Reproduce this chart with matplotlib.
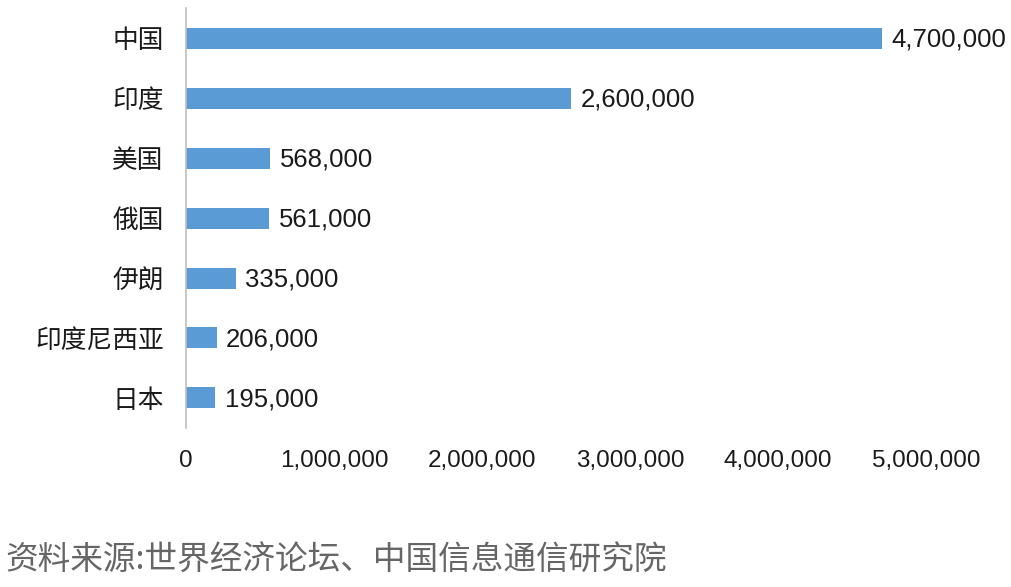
import matplotlib.pyplot as plt
from matplotlib.ticker import FuncFormatter

plt.rcParams['font.family'] = ['Liberation Sans', 'Noto Sans CJK SC', 'DejaVu Sans']

countries = ['中国', '印度', '美国', '俄国', '伊朗', '印度尼西亚', '日本']
values = [4700000, 2600000, 568000, 561000, 335000, 206000, 195000]
xticks = [0, 1000000, 2000000, 3000000, 4000000, 5000000]
source = '资料来源:世界经济论坛、中国信息通信研究院'

fig = plt.figure(figsize=(10.11, 5.87), dpi=100)
ax = fig.add_axes([0.184, 0.271, 0.732, 0.715])

pos = range(len(countries))
ax.barh(pos, values, height=0.35, color='#5B9BD5')
for i, v in enumerate(values):
    ax.annotate(f'{v:,}', (v, i), xytext=(7, -1), textcoords='offset points',
                va='center', ha='left', fontsize=18.5, color='#1a1a1a')

ax.set_xlim(0, 5000000)
ax.set_ylim(6.5, -0.5)
ax.set_xticks(xticks)
ax.xaxis.set_major_formatter(FuncFormatter(lambda x, p: f'{int(x):,}'))
ax.set_yticks(list(pos))
ax.set_yticklabels(countries, family=['Noto Sans CJK SC', 'DejaVu Sans'])
ax.tick_params(axis='x', length=0, pad=16, labelsize=17.5, labelcolor='#1a1a1a')
ax.tick_params(axis='y', length=0, pad=16, labelsize=18.5, labelcolor='#1a1a1a')

for s in ['top', 'right', 'bottom']:
    ax.spines[s].set_visible(False)
ax.spines['left'].set_color('#BFBFBF')
ax.spines['left'].set_linewidth(1.2)

fig.text(0.005, 0.045, source, fontsize=23.5, color='#666666', ha='left', va='center',
         family=['Noto Sans CJK SC', 'DejaVu Sans'], fontweight='light')

fig.savefig('out.png', dpi=100)
